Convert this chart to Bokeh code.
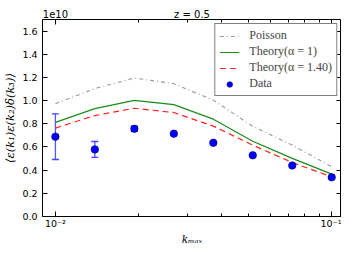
from bokeh.plotting import figure
from bokeh.models import (Range1d, LogAxis, LinearAxis, FixedTicker, CustomJSTickFormatter,
                          PrintfTickFormatter, Whisker, ColumnDataSource, Legend, LegendItem, TeeHead)
from bokeh.embed import file_html
from bokeh.resources import INLINE

# k_max values
k_max = [0.01, 0.01389, 0.01931, 0.02683, 0.03728, 0.05179, 0.07197, 0.1]
# values in units of 1e10
poisson = [0.973, 1.104, 1.195, 1.146, 1.004, 0.778, 0.616, 0.429]
theory_a1 = [0.812, 0.931, 1.002, 0.965, 0.840, 0.650, 0.502, 0.366]
theory_a140 = [0.763, 0.871, 0.934, 0.897, 0.780, 0.616, 0.466, 0.342]
data = [0.689, 0.579, 0.757, 0.715, 0.636, 0.528, 0.440, 0.338]
data_err = [0.197, 0.068, 0.022, 0.0, 0.0, 0.0, 0.0, 0.0]

y_ticks = [0.0, 0.2, 0.4, 0.6, 0.8, 1.0, 1.2, 1.4, 1.6]
x_major = [0.01, 0.1]
x_minor = [0.02, 0.03, 0.04, 0.05, 0.06, 0.07, 0.08, 0.09]
title_text = "z = 0.5"
scale_text = "1e10"

X0, X1 = 0.00898, 0.1085
SERIF = "DejaVu Serif"
LSERIF = "Liberation Serif"
SANS = "DejaVu Sans"

p = figure(width=341, height=247, x_axis_type="log",
           x_range=Range1d(X0, X1), y_range=Range1d(0, 1.7),
           output_backend="svg", toolbar_location=None,
           min_border_left=42, min_border_right=0, min_border_top=19, min_border_bottom=0)
p.xgrid.visible = False
p.ygrid.visible = False
p.outline_line_color = "black"
p.outline_line_width = 1
p.background_fill_color = "white"
p.border_fill_color = "white"

xt = FixedTicker(ticks=x_major, minor_ticks=x_minor)
yt = FixedTicker(ticks=y_ticks)
xfmt = CustomJSTickFormatter(code="return tick < 0.05 ? '10\u207b\u00b2' : '10\u207b\u00b9';")
blank = CustomJSTickFormatter(code="return '';")

for ax in p.xaxis:
    ax.ticker = xt
    ax.formatter = xfmt
    ax.axis_label = "k\u2098\u2090\u2093"
for ax in p.yaxis:
    ax.ticker = yt
    ax.formatter = PrintfTickFormatter(format="%.1f")
    ax.axis_label = "\u27e8\u03b5(k\u2081)\u03b5(k\u2082)\u03b4(k\u2083)\u27e9"

def style(ax, labels=True):
    ax.axis_line_color = None
    ax.major_tick_in = 5
    ax.major_tick_out = 0
    ax.minor_tick_in = 3
    ax.minor_tick_out = 0
    ax.major_tick_line_color = "black"
    ax.minor_tick_line_color = "black"
    ax.major_label_text_font = SANS
    ax.major_label_text_font_size = "9.5px"
    ax.major_label_text_color = "black"
    ax.axis_label_text_font = SERIF
    ax.axis_label_text_font_style = "italic"
    ax.axis_label_text_font_size = "11.5px"
    ax.axis_label_text_color = "black"
    ax.major_label_standoff = 3
    ax.axis_label_standoff = 2
    if not labels:
        ax.formatter = blank
        ax.major_label_standoff = 0
        ax.axis_label = None

style(p.xaxis[0])
p.xaxis[0].major_label_standoff = 1
p.xaxis[0].axis_label_standoff = 1
p.xaxis[0].axis_label_text_font_size = "10.5px"
style(p.yaxis[0])
p.yaxis[0].minor_tick_in = 0
p.yaxis[0].major_label_standoff = 5

top = LogAxis(ticker=xt)
right = LinearAxis(ticker=yt)
style(top, labels=False)
style(right, labels=False)
right.minor_tick_in = 0
p.add_layout(top, "above")
p.add_layout(right, "right")

# text-only top axis carrying the scale factor and the title
xc = (X0 * X1) ** 0.5
txt_ticker = FixedTicker(ticks=[0.01, xc], minor_ticks=[])
txt_fmt = CustomJSTickFormatter(args=dict(a=scale_text, b=title_text),
                                code="return tick < 0.015 ? a : b;")
top_txt = LogAxis(ticker=txt_ticker, formatter=txt_fmt)
top_txt.axis_line_color = None
top_txt.major_tick_in = 0
top_txt.major_tick_out = 0
top_txt.minor_tick_in = 0
top_txt.minor_tick_out = 0
top_txt.major_label_standoff = 0
top_txt.major_label_text_font = SANS
top_txt.major_label_text_font_size = "10px"
top_txt.major_label_text_color = "black"
p.add_layout(top_txt, "above")

src = ColumnDataSource(dict(k=k_max, poisson=poisson, t1=theory_a1, t14=theory_a140, d=data))

r_p = p.line("k", "poisson", source=src, line_color="#999999", line_width=1.1, line_dash="4 3 1 3")
r_g = p.line("k", "t1", source=src, line_color="#1a8c1a", line_width=1.2)
r_r = p.line("k", "t14", source=src, line_color="#ff2020", line_width=1.2, line_dash="6 4")

n_err = sum(1 for e in data_err if e > 0)
err_src = ColumnDataSource(dict(k=k_max[:n_err],
                                lo=[d - e for d, e in zip(data[:n_err], data_err[:n_err])],
                                hi=[d + e for d, e in zip(data[:n_err], data_err[:n_err])]))
w = Whisker(base="k", lower="lo", upper="hi", source=err_src, dimension="height",
            line_color="#4444ff", line_width=1.3, line_alpha=0.9)
w.upper_head = TeeHead(size=7, line_color="#4444ff", line_width=1.3)
w.lower_head = TeeHead(size=7, line_color="#4444ff", line_width=1.3)
p.add_layout(w)

r_d = p.scatter("k", "d", source=src, size=7.5, fill_color="#0000ff", line_color="#000060", line_width=0.6)

legend = Legend(items=[LegendItem(label="Poisson", renderers=[r_p]),
                       LegendItem(label="Theory(\u03b1 = 1)", renderers=[r_g]),
                       LegendItem(label="Theory(\u03b1 = 1.40)", renderers=[r_r]),
                       LegendItem(label="Data", renderers=[r_d])],
                location="top_right")
legend.label_text_font = LSERIF
legend.label_text_font_size = "12px"
legend.border_line_color = "black"
legend.border_line_width = 1
legend.background_fill_alpha = 1
legend.margin = 4
legend.padding = 4
legend.spacing = 1
legend.glyph_height = 14
legend.label_height = 14
legend.glyph_width = 20
legend.label_standoff = 10
p.add_layout(legend)

open("out.html", "w").write(file_html(p, INLINE))
